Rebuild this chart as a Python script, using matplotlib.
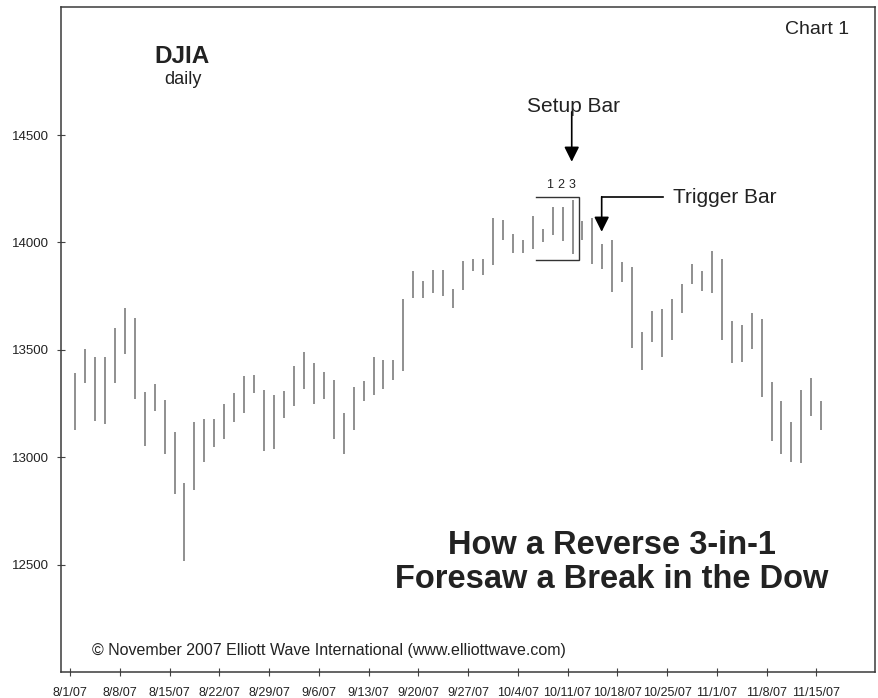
"""DJIA daily high-low bars, Aug-Nov 2007, with reverse 3-in-1 setup/trigger notes."""
import matplotlib
matplotlib.use('Agg')
import matplotlib.pyplot as plt

plt.rcParams['font.family'] = ['Liberation Sans', 'DejaVu Sans']

# Daily highs / lows, one per trading day starting 8/1/07
HIGHS = [13390, 13502, 13468, 13468, 13604, 13693, 13649, 13304, 13339, 13266,
         13117, 12881, 13166, 13180, 13176, 13247, 13297, 13378, 13382, 13315,
         13292, 13309, 13427, 13491, 13440, 13395, 13359, 13207, 13325, 13356,
         13468, 13455, 13451, 13739, 13867, 13821, 13874, 13871, 13784, 13916,
         13921, 13924, 14113, 14104, 14038, 14011, 14123, 14065, 14163, 14166,
         14197, 14099, 14115, 13991, 14011, 13910, 13884, 13584, 13682, 13690,
         13739, 13809, 13898, 13867, 13960, 13921, 13635, 13617, 13670, 13646,
         13351, 13261, 13162, 13315, 13367, 13261]
LOWS = [13129, 13347, 13169, 13157, 13347, 13483, 13270, 13053, 13216, 13017,
        12831, 12517, 12847, 12980, 13048, 13084, 13165, 13207, 13300, 13031,
        13038, 13185, 13239, 13316, 13249, 13270, 13083, 13017, 13126, 13263,
        13289, 13320, 13359, 13402, 13742, 13742, 13767, 13750, 13696, 13777,
        13868, 13848, 13895, 14011, 13949, 13949, 13968, 14003, 14034, 14006,
        13946, 14011, 13902, 13876, 13770, 13817, 13511, 13405, 13536, 13468,
        13545, 13672, 13805, 13775, 13766, 13545, 13441, 13444, 13506, 13281,
        13076, 13014, 12976, 12971, 13193, 13129]

# weekly tick labels (every 5 trading days)
DATE_LABELS = ['8/1/07', '8/8/07', '8/15/07', '8/22/07', '8/29/07', '9/6/07',
               '9/13/07', '9/20/07', '9/27/07', '10/4/07', '10/11/07',
               '10/18/07', '10/25/07', '11/1/07', '11/8/07', '11/15/07']
Y_TICKS = [12500, 13000, 13500, 14000, 14500]

# setup pattern: bars 1-2-3 and trigger bar (indices into the series)
SETUP_BARS = [48, 49, 50]
SETUP_BOX = (46.35, 50.65, 13918, 14213)
TRIGGER_BAR = 53

W, H = 879, 698
fig = plt.figure(figsize=(W / 100, H / 100), dpi=100)
ax = fig.add_axes([61.5 / W, 1 - 672 / H, (875 - 61.5) / W, (672 - 6.7) / H])

INK = '#222222'
x = list(range(len(HIGHS)))
ax.vlines(x, LOWS, HIGHS, color='#777777', linewidth=1.15, zorder=2)

ax.set_xlim(-1.36, 80.4)
ax.set_ylim(12000, 15098)

ax.set_xticks([i * 5 - 0.5 for i in range(len(DATE_LABELS))])
ax.set_xticklabels(DATE_LABELS, fontsize=9, color=INK)
ax.set_yticks(Y_TICKS)
ax.set_yticklabels([str(v) for v in Y_TICKS], fontsize=9.5, color=INK)
ax.tick_params(direction='inout', length=6, width=0.8, color='#444444')
ax.tick_params(axis='x', pad=8)
ax.tick_params(axis='y', pad=6)
for sp in ax.spines.values():
    sp.set_color('#3a3a3a')
    sp.set_linewidth(1.1)

# setup bracket (open on the left)
x0, x1, y0, y1 = SETUP_BOX
ax.plot([x0, x1, x1, x0], [y1, y1, y0, y0], color='#333333', lw=1.0,
        solid_joinstyle='miter', zorder=3)
for n, b in enumerate(SETUP_BARS):
    ax.text(b - 0.35 + n * 0.15, 14256, str(n + 1), ha='center', va='baseline',
            fontsize=9, color=INK)

# Setup Bar arrow
ax.annotate('', xy=(SETUP_BARS[-1] - 0.08, 14376), xytext=(SETUP_BARS[-1] - 0.08, 14608),
            arrowprops=dict(arrowstyle='-|>,head_length=0.9,head_width=0.45',
                            color='black', lw=1.2, shrinkA=0, shrinkB=0))
ax.text(SETUP_BARS[-1] + 0.1, 14590, 'Setup Bar', ha='center', va='bottom',
        fontsize=15, color=INK)

# Trigger Bar elbow arrow
ax.plot([TRIGGER_BAR - 0.07, 59.1], [14213, 14213], color='black', lw=1.2)
ax.annotate('', xy=(TRIGGER_BAR - 0.07, 14050), xytext=(TRIGGER_BAR - 0.07, 14213),
            arrowprops=dict(arrowstyle='-|>,head_length=0.9,head_width=0.45',
                            color='black', lw=1.2, shrinkA=0, shrinkB=0))
ax.text(60.05, 14185, 'Trigger Bar', ha='left', va='baseline', fontsize=15, color=INK)

# figure-level labels
fig.text(817 / W, 1 - 34.3 / H, 'Chart 1', ha='center', va='baseline',
         fontsize=14, color=INK)
fig.text(182.5 / W, 1 - 63.3 / H, 'DJIA', ha='center', va='baseline',
         fontsize=17.5, fontweight='bold', color=INK)
fig.text(182.5 / W, 1 - 84 / H, 'daily', ha='center', va='baseline',
         fontsize=13, color=INK)
fig.text(612 / W, 1 - 554 / H, 'How a Reverse 3-in-1', ha='center', va='baseline',
         fontsize=23.5, fontweight='bold', color=INK)
fig.text(612 / W, 1 - 588.3 / H, 'Foresaw a Break in the Dow', ha='center',
         va='baseline', fontsize=23.5, fontweight='bold', color=INK)
fig.text(91.7 / W, 1 - 655 / H,
         '\u00a9 November 2007 Elliott Wave International (www.elliottwave.com)',
         ha='left', va='baseline', fontsize=11.5, color=INK)

fig.savefig('out.png', dpi=100, facecolor='white')
